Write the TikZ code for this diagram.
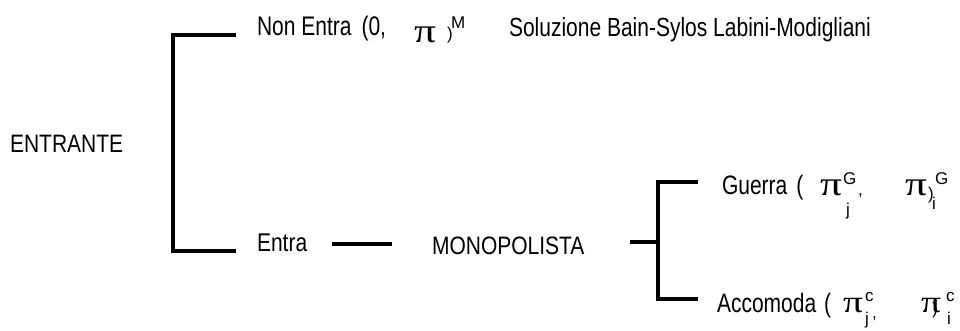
\documentclass[tikz,border=0pt]{standalone}
\usepackage{fontspec}
\setmainfont{Liberation Sans}
\newfontfamily\pifont{Liberation Serif}
% vertically stretched text
\newcommand{\tallText}[2]{\scalebox{1}[#1]{#2}}
% horizontally widened pi
\newcommand{\widePi}{\scalebox{1.28}[1]{π}}
\begin{document}
\begin{tikzpicture}[x=1pt,y=-1pt,
  lbl/.style={anchor=base west, inner sep=0pt, outer sep=0pt, font=\fontsize{21}{21}\selectfont},
  small/.style={anchor=base west, inner sep=0pt, outer sep=0pt, font=\fontsize{17}{17}\selectfont},
  bigpi/.style={anchor=base west, inner sep=0pt, outer sep=0pt, font=\pifont\fontsize{34}{34}\selectfont},
  midpi/.style={anchor=base west, inner sep=0pt, outer sep=0pt, font=\pifont\fontsize{31}{31}\selectfont},
  branch/.style={line width=3.2pt, line cap=butt, line join=miter}]
\useasboundingbox (0,0) rectangle (960,331);

% first move: the entrant
\node[lbl] (entrante) at (10,153) {\tallText{1.2}{ENTRANTE}};
\coordinate (lt) at (173,35);
\coordinate (ltend) at (236,35);
\coordinate (lb) at (173,251);
\coordinate (lbend) at (236,251);
\draw[branch] (ltend) -- (lt) -- (lb) -- (lbend);

% upper branch: no entry
\node[lbl] (nonentra) at (257,36) {\tallText{1.28}{Non Entra\hspace{10pt}(0,}};
\node[bigpi] (piM) at (414,43) {\widePi};
\node[small] (parM) at (447,40) {)};
\node[small] (supM) at (451,29) {M};
\node[lbl] (soluz) at (509,37) {\tallText{1.25}{Soluzione Bain-Sylos Labini-Modigliani}};

% lower branch: entry, then the monopolist moves
\node[lbl] (entra) at (257,251) {\tallText{1.22}{Entra}};
\coordinate (ea) at (332,244);
\coordinate (eb) at (392,244);
\draw[branch] (ea) -- (eb);
\node[lbl] (mono) at (432,254) {\tallText{1.2}{MONOPOLISTA}};

\coordinate (ma) at (630,242);
\coordinate (mb) at (658,242);
\coordinate (rt) at (658,182);
\coordinate (rtend) at (698,182);
\coordinate (rb) at (658,299);
\coordinate (rbend) at (698,299);
\draw[branch] (ma) -- (mb);
\draw[branch] (rtend) -- (rt) -- (rb) -- (rbend);

% war
\node[lbl] (guerra) at (722,194) {\tallText{1.27}{Guerra\hspace{9pt}(}};
\node[bigpi] (piGj) at (820,196) {\widePi};
\node[small] (supGj) at (843,184) {G};
\node[small] (subGj) at (846,215) {j};
\node[small] (commaG) at (858,196) {,};
\node[bigpi] (piGi) at (905,196) {\widePi};
\node[small] (parG) at (928,199) {)};
\node[small] (supGi) at (935,184) {G};
\node[small] (subGi) at (932,209) {i};

% accommodation
\node[lbl] (accom) at (717,312) {\tallText{1.27}{Accomoda\hspace{8pt}(}};
\node[midpi] (piCj) at (843,312) {\widePi};
\node[small] (supCj) at (865,301) {c};
\node[small] (subCj) at (865,324) {j};
\node[small] (commaC) at (872,318) {,};
\node[midpi] (piCi) at (921,312) {\widePi};
\node[small] (parC) at (932,314) {)};
\node[small] (supCi) at (946,301) {c};
\node[small] (subCi) at (947,324) {i};
\end{tikzpicture}
\end{document}
